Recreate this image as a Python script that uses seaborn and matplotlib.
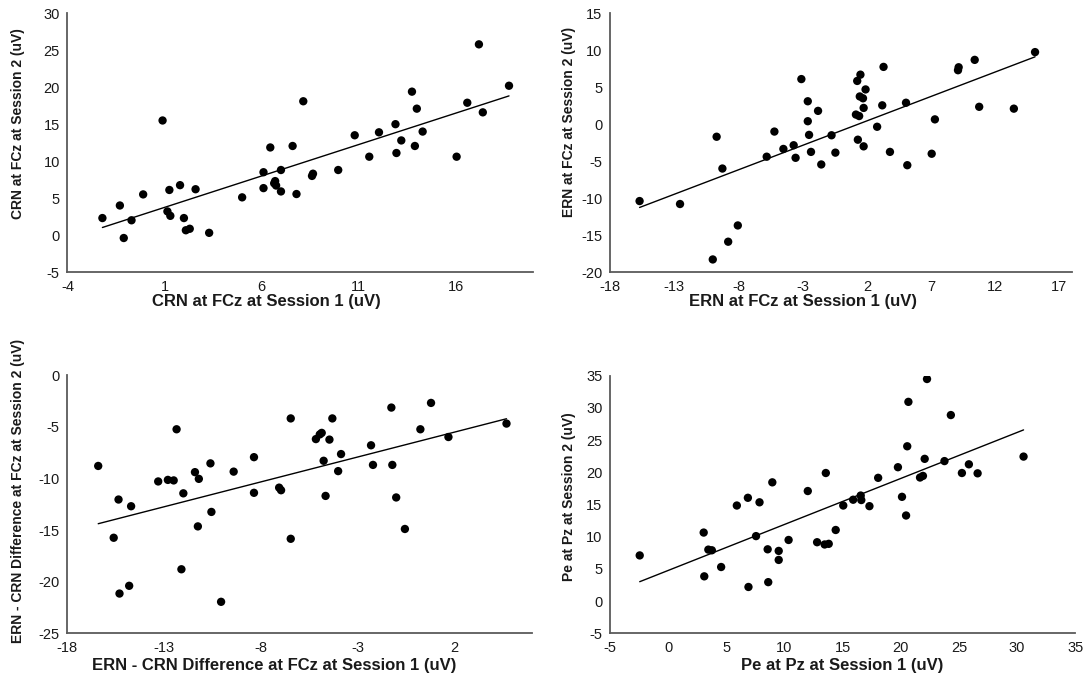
import matplotlib
matplotlib.use("Agg")
import matplotlib.pyplot as plt
import numpy as np
import pandas as pd
import seaborn as sns

# CRN at FCz, session 1 vs session 2 (uV)
crn_s1 = [-2.2, -1.3, -1.1, -0.7, -0.1, 0.9, 1.15, 1.25, 1.3, 1.8, 2.0, 2.1, 2.3, 2.6,
          3.3, 5.0, 6.1, 6.1, 6.45, 6.65, 6.75, 6.7, 7.0, 7.0, 7.6, 7.8, 8.15, 8.6, 8.65,
          9.95, 10.8, 11.55, 12.05, 12.9, 12.95, 13.2, 13.75, 14.0, 13.9, 14.3, 16.05,
          16.6, 17.2, 17.4, 18.75]
crn_s2 = [2.3, 4.0, -0.4, 2.0, 5.5, 15.5, 3.2, 6.1, 2.6, 6.75, 2.3, 0.65, 0.85, 6.2,
          0.3, 5.1, 8.5, 6.35, 11.85, 7.0, 6.7, 7.3, 8.8, 5.9, 12.05, 5.55, 18.1, 8.0, 8.3,
          8.8, 13.5, 10.6, 13.9, 15.0, 11.1, 12.8, 19.4, 17.1, 12.05, 14.0, 10.6,
          17.9, 25.8, 16.6, 20.2]

# ERN at FCz, session 1 vs session 2 (uV)
ern_s1 = [-15.7, -12.55, -10.0, -9.7, -9.25, -8.8, -8.05, -5.8, -5.2, -4.5, -3.7, -3.55,
          -3.1, -2.6, -2.6, -2.5, -2.35, -1.8, -1.55, -0.75, -0.45, 1.25, 1.5, 1.9, 1.45,
          1.7, 1.75, 1.15, 1.4, 1.3, 1.75, 2.8, 3.2, 3.3, 3.8, 5.05, 5.15, 7.05, 7.3,
          9.1, 9.15, 10.4, 10.75, 13.45, 15.1]
ern_s2 = [-10.4, -10.8, -18.3, -1.7, -6.0, -15.9, -13.7, -4.4, -1.0, -3.35, -2.85, -4.55,
          6.1, 3.1, 0.4, -1.45, -3.75, 1.8, -5.45, -1.5, -3.85, 5.85, 6.7, 4.7, 3.75,
          3.5, 2.2, 1.3, 1.1, -2.1, -3.0, -0.35, 2.55, 7.75, -3.75, 2.9, -5.55, -4.0, 0.65,
          7.3, 7.7, 8.7, 2.35, 2.1, 9.75]

# ERN - CRN difference at FCz, session 1 vs session 2 (uV)
diff_s1 = [-16.4, -15.6, -15.35, -15.3, -14.8, -14.7, -13.3, -12.8, -12.5, -12.35, -12.1,
           -12.0, -11.4, -11.2, -11.25, -10.6, -10.55, -10.05, -9.4, -8.35, -8.35, -7.05,
           -6.95, -6.45, -6.45, -5.15, -4.95, -4.85, -4.45, -4.75, -4.65, -4.3, -3.85,
           -4.0, -2.3, -2.2, -1.25, -1.2, -1.0, -0.55, 0.25, 0.8, 1.7, 4.7]
diff_s2 = [-8.8, -15.75, -12.05, -21.15, -20.4, -12.7, -10.3, -10.15, -10.2, -5.25, -18.8,
           -11.45, -9.4, -10.05, -14.65, -8.55, -13.25, -21.95, -9.35, -7.95, -11.4, -10.9,
           -11.15, -4.2, -15.85, -6.2, -5.75, -5.6, -6.25, -8.3, -11.7, -4.2, -7.65,
           -9.3, -6.8, -8.7, -3.15, -8.7, -11.85, -14.9, -5.25, -2.7, -6.0, -4.7]

# Pe at Pz, session 1 vs session 2 (uV)
pe_s1 = [-2.45, 3.05, 3.1, 3.45, 3.75, 4.55, 5.9, 6.85, 6.9, 7.55, 7.85, 8.55, 8.6, 8.95,
         9.5, 9.5, 10.35, 12.0, 12.8, 13.55, 13.45, 13.8, 14.4, 15.05, 15.9, 16.55, 16.6,
         17.3, 18.05, 19.75, 20.1, 20.45, 20.55, 20.65, 21.65, 21.9, 22.05, 22.25, 23.75,
         24.3, 25.25, 25.85, 26.6, 30.55]
pe_s2 = [7.1, 10.65, 3.85, 8.0, 7.9, 5.3, 14.85, 16.05, 2.2, 10.1, 15.35, 8.05, 2.95, 18.45,
         7.8, 6.4, 9.5, 17.1, 9.15, 19.9, 8.8, 8.9, 11.05, 14.85, 15.75, 16.4, 15.7,
         14.75, 19.15, 20.8, 16.2, 13.3, 24.05, 30.95, 19.2, 19.45, 22.1, 34.5, 21.75,
         28.9, 19.9, 21.25, 19.85, 22.45]

x_labels = ["CRN at FCz at Session 1 (uV)", "ERN at FCz at Session 1 (uV)",
            "ERN - CRN Difference at FCz at Session 1 (uV)", "Pe at Pz at Session 1 (uV)"]
y_labels = ["CRN at FCz at Session 2 (uV)", "ERN at FCz at Session 2 (uV)",
            "ERN - CRN Difference at FCz at Session 2 (uV)", "Pe at Pz at Session 2 (uV)"]

sns.set_style("white")
plt.rcParams["font.family"] = ["Liberation Sans", "DejaVu Sans"]
plt.rcParams["axes.unicode_minus"] = False

AXIS_COLOR = "#5a5a5a"
TEXT_COLOR = "#1a1a1a"

fig = plt.figure(figsize=(10.83, 6.89), dpi=100)

panels = [
    dict(x=crn_s1, y=crn_s2, rect=[0.0623, 0.6052, 0.4301, 0.3755],
         xlim=(-4, 20), xticks=np.arange(-4, 20, 5), ylim=(-5, 30), yticks=np.arange(-5, 31, 5),
         xl=(0.428, -0.086), yl=(-0.091, 0.572)),
    dict(x=ern_s1, y=ern_s2, rect=[0.5633, 0.6052, 0.4268, 0.3755],
         xlim=(-18, 18), xticks=np.arange(-18, 18, 5), ylim=(-20, 15), yticks=np.arange(-20, 16, 5),
         xl=(0.418, -0.086), yl=(-0.074, 0.579)),
    dict(x=diff_s1, y=diff_s2, rect=[0.0621, 0.0808, 0.4288, 0.3749],
         xlim=(-18, 6), xticks=np.arange(-18, 6, 5), ylim=(-25, 0), yticks=np.arange(-25, 1, 5),
         xl=(0.445, -0.094), yl=(-0.091, 0.551)),
    dict(x=pe_s1, y=pe_s2, rect=[0.5633, 0.0808, 0.4296, 0.3738],
         xlim=(-5, 35), xticks=np.arange(-5, 36, 5), ylim=(-5, 35), yticks=np.arange(-5, 36, 5),
         xl=(0.5, -0.094), yl=(-0.074, 0.53)),
]

for i, p in enumerate(panels):
    ax = fig.add_axes(p["rect"])
    df = pd.DataFrame({"s1": p["x"], "s2": p["y"]})
    sns.regplot(data=df, x="s1", y="s2", ax=ax, ci=None, truncate=True,
                scatter_kws=dict(s=36, color="black", edgecolor="none", alpha=1),
                line_kws=dict(color="black", lw=1.0))
    ax.set_xlim(*p["xlim"])
    ax.set_ylim(*p["ylim"])
    ax.set_xticks(p["xticks"])
    ax.set_yticks(p["yticks"])
    for side in ("top", "right"):
        ax.spines[side].set_visible(False)
    for side in ("left", "bottom"):
        ax.spines[side].set_color(AXIS_COLOR)
        ax.spines[side].set_linewidth(1.3)
    ax.tick_params(axis="both", direction="out", length=4, width=1.0, color=AXIS_COLOR,
                   labelsize=10.5, labelcolor=TEXT_COLOR, pad=1.5)
    ax.set_xlabel(x_labels[i], fontsize=12, fontweight="bold", color=TEXT_COLOR)
    ax.set_ylabel(y_labels[i], fontsize=10, fontweight="bold", color=TEXT_COLOR)
    ax.xaxis.set_label_coords(*p["xl"])
    ax.yaxis.set_label_coords(*p["yl"])
    ax.grid(False)

fig.savefig("out.png", dpi=100, facecolor="white")
